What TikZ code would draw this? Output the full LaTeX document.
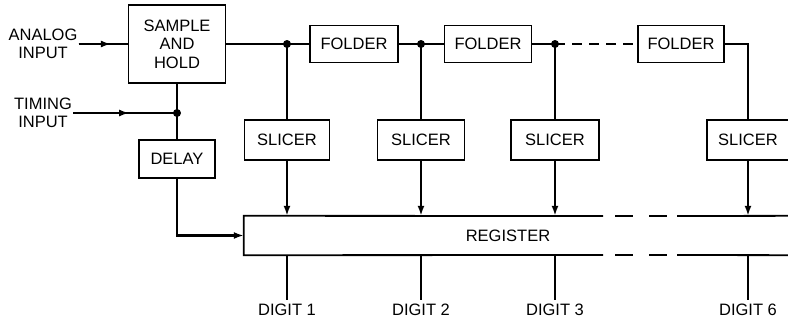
\documentclass[tikz,border=0pt]{standalone}
\usepackage{fontspec}
\setmainfont{Liberation Sans}
\usetikzlibrary{arrows.meta}

\begin{document}
\begin{tikzpicture}[x=1pt, y=-1pt, >={Latex[length=10pt,width=7pt]},
        every node/.style={font=\fontsize{16.5}{18.5}\selectfont},
        box/.style={draw, line width=1.8pt, inner sep=0pt, align=center},
        wire/.style={line width=2.4pt},
        edge/.style={line width=1.8pt},
        lbl/.style={inner sep=1pt, align=center}]
        \useasboundingbox (0,0) rectangle (788,322);
        % Blocks
        \node[box, minimum width=97pt, minimum height=78pt] (sh)    at (177,44) {SAMPLE\\AND\\HOLD};
        \node[box, minimum width=76pt, minimum height=38pt] (delay) at (177,159) {DELAY};
        \node[box, minimum width=88pt, minimum height=37pt] (fold1) at (354,44)   {FOLDER};
        \node[box, minimum width=87pt, minimum height=37pt] (fold2) at (488,44)   {FOLDER};
        \node[box, minimum width=86pt, minimum height=37pt] (fold3) at (681,44)   {FOLDER};
        \foreach \n/\x/\w in {1/287/85, 2/421/87, 3/555/88, 4/748/82} {
            \node[box, minimum width=\w pt, minimum height=40pt] (slice\n) at (\x,140) {SLICER};
        }
        % Register (open to the right)
        \node[inner sep=0pt, minimum width=560pt, minimum height=39pt] (reg) at (524,235.5) {};
        \node (regtxt) at (508,235.5) {REGISTER};
        \draw[edge] (603,216) -- (reg.north west) -- (reg.south west) -- (603,255);
        \draw[edge] (677,216) -- (reg.north east);
        \draw[edge] (677,255) -- (reg.south east);
        \draw[edge, dash pattern=on 18pt off 16pt] (615,216) -- (667,216);
        \draw[edge, dash pattern=on 18pt off 16pt] (615,255) -- (667,255);
        % Inputs
        \node[lbl] (ain) at (43,44)  {ANALOG\\INPUT};
        \node[lbl] (tin) at (43,113) {TIMING\\INPUT};
        \coordinate (j0) at (sh.south |- tin.east);
        \draw[wire] (ain.east) -- coordinate[pos=0.66] (a1) (sh.west);
        \draw[wire, ->] (ain.east) -- (a1);
        \draw[wire] (tin.east) -- coordinate[pos=0.54] (a2) (j0);
        \draw[wire, ->] (tin.east) -- (a2);
        \draw[wire] (sh.south) -- (delay.north);
        \draw[wire, ->] (delay.south) |- (reg.west);
        % Folder chain
        \coordinate (j1) at (slice1.north |- sh.east);
        \coordinate (j2) at (slice2.north |- sh.east);
        \coordinate (j3) at (slice3.north |- sh.east);
        \draw[wire] (sh.east) -- (fold1.west);
        \draw[wire] (fold1.east) -- (fold2.west);
        \draw[wire] (fold2.east) -- (j3);
        \draw[wire, dash pattern=on 10pt off 7pt] (j3) -- (fold3.west);
        \draw[wire] (fold3.east) -| (slice4.north);
        \foreach \j in {j0, j1, j2, j3} {
            \fill (\j) circle (4pt);
        }
        % Slicers to register, digits out
        \coordinate (dbase) at (0,300);
        \foreach \n/\d in {1/1, 2/2, 3/3, 4/6} {
            \ifnum\n<4 \draw[wire] (j\n) -- (slice\n.north); \fi
            \draw[wire, ->] (slice\n.south) -- (slice\n.south |- reg.north);
            \node[anchor=north, inner sep=4pt] (dig\d) at (slice\n.south |- dbase) {DIGIT \d};
            \draw[wire] (slice\n.south |- reg.south) -- (dig\d.north);
        }
    \end{tikzpicture}
\end{document}
